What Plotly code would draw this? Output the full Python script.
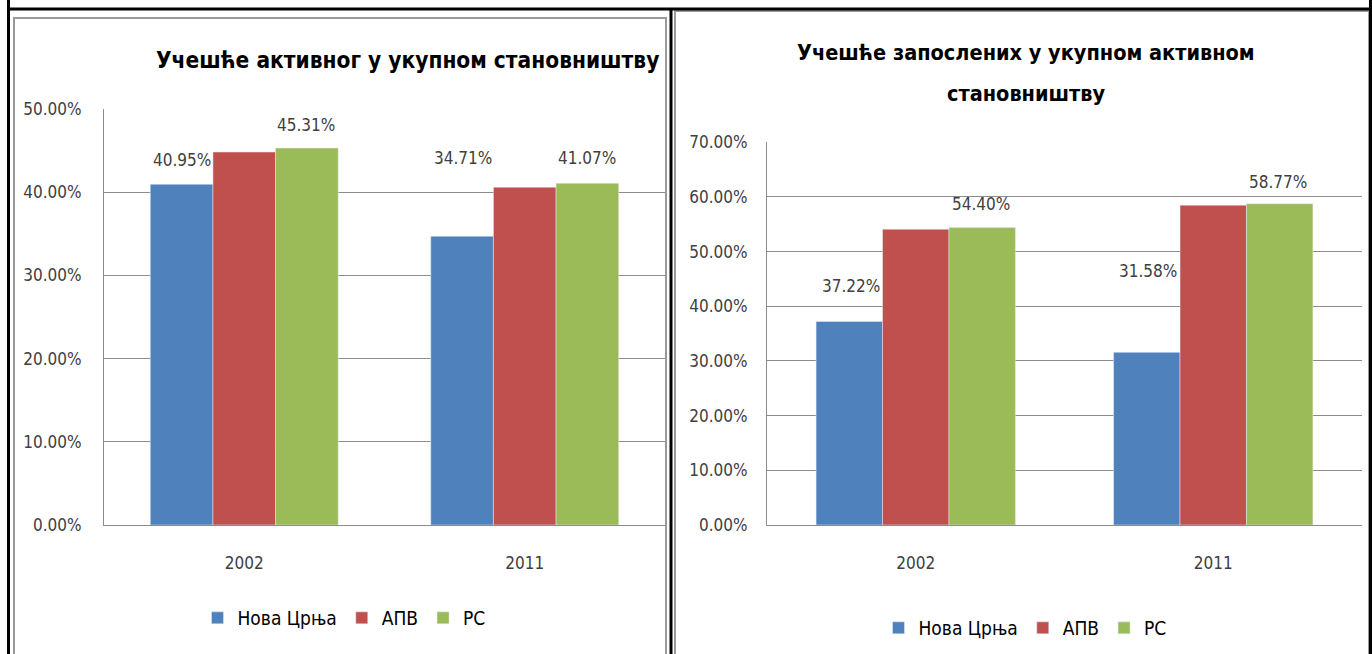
import plotly.graph_objects as go

years = ["2002", "2011"]
series = ["Нова Црња", "АПВ", "РС"]
colors = ["#4F81BD", "#C0504D", "#9BBB59"]

# Учешће активног у укупном становништву (%)
active_nc = [40.95, 34.71]
active_apv = [44.83, 40.60]
active_rs = [45.31, 41.07]

# Учешће запослених у укупном активном становништву (%)
empl_nc = [37.22, 31.58]
empl_apv = [54.10, 58.50]
empl_rs = [54.40, 58.77]

title_left = "Учешће активног у укупном становништву"
title_right = ["Учешће запослених у укупном активном", "становништву"]

W, H = 1372, 654
FONT = "Liberation Sans Narrow, DejaVu Sans Condensed, Arial Narrow, sans-serif"
TXT = "#404040"


def px(x):
    return x / W


def py(y):
    return (H - y) / H


fig = go.Figure()

left = [active_nc, active_apv, active_rs]
right = [empl_nc, empl_apv, empl_rs]
for i, name in enumerate(series):
    fig.add_trace(go.Bar(x=years, y=left[i], name=name, marker_color=colors[i],
                         xaxis="x", yaxis="y", legend="legend"))
    fig.add_trace(go.Bar(x=years, y=right[i], name=name, marker_color=colors[i],
                         xaxis="x2", yaxis="y2", legend="legend2"))

# data labels (only Нова Црња and РС carry labels, as in the original);
# label offsets in px: (bar shift, lift above bar top per year)
label_sets = [
    ("x", "y", active_nc, -62, [24, 78]),
    ("x", "y", active_rs, 62, [23, 25]),
    ("x2", "y2", empl_nc, -65, [36, 81]),
    ("x2", "y2", empl_rs, 65, [24, 22]),
]
annotations = []
for xr, yr, vals, dx, lifts in label_sets:
    for j, (v, lift) in enumerate(zip(vals, lifts)):
        annotations.append(dict(
            x=j, y=v, xref=xr, yref=yr, text=f"{v:.2f}%", showarrow=False,
            xshift=dx, yshift=lift, xanchor="center", yanchor="middle",
            font=dict(size=17, color=TXT, family=FONT)))

annotations.append(dict(
    text="<b>" + title_left + "</b>", x=px(407), y=py(60), xref="paper", yref="paper",
    showarrow=False, xanchor="center", yanchor="middle",
    font=dict(size=22.5, color="black", family=FONT)))
for line, ypos in zip(title_right, [52, 93]):
    annotations.append(dict(
        text="<b>" + line + "</b>", x=px(1026), y=py(ypos), xref="paper", yref="paper",
        showarrow=False, xanchor="center", yanchor="middle",
        font=dict(size=21.5, color="black", family=FONT)))

axis_common = dict(showline=True, linecolor="#8c8c8c", linewidth=1, automargin=False,
                   tickfont=dict(size=17, color=TXT, family=FONT), ticks="")

fig.update_layout(
    width=W, height=H,
    margin=dict(l=0, r=0, t=0, b=0, autoexpand=False),
    paper_bgcolor="white", plot_bgcolor="white",
    barmode="group", bargap=0.33, bargroupgap=0,
    font=dict(family=FONT, color=TXT),
    xaxis=dict(domain=[px(104), px(665)], anchor="y", type="category", range=[-0.5, 1.5],
               ticklabelstandoff=23, **axis_common),
    yaxis=dict(domain=[py(525), py(109)], anchor="x", range=[0, 50], dtick=10,
               ticksuffix="%", tickformat=".2f", showgrid=True, gridcolor="#8c8c8c",
               ticklabelstandoff=18, **axis_common),
    xaxis2=dict(domain=[px(767), px(1362)], anchor="y2", type="category", range=[-0.5, 1.5],
                ticklabelstandoff=23, **axis_common),
    yaxis2=dict(domain=[py(525), py(142.3)], anchor="x2", range=[0, 70], dtick=10,
                ticksuffix="%", tickformat=".2f", showgrid=True, gridcolor="#8c8c8c",
                ticklabelstandoff=15, **axis_common),
    legend=dict(orientation="h", x=px(344), y=py(618), xanchor="center", yanchor="middle",
                font=dict(size=19, color="black", family=FONT), itemwidth=30),
    legend2=dict(orientation="h", x=px(1025), y=py(628), xanchor="center", yanchor="middle",
                 font=dict(size=19, color="black", family=FONT), itemwidth=30),
    annotations=annotations,
    shapes=[
        # chart frames (grey)
        dict(type="rect", xref="paper", yref="paper", x0=px(14), x1=px(666), y0=py(660), y1=py(18),
             line=dict(color="#9a9a9a", width=2)),
        dict(type="rect", xref="paper", yref="paper", x0=px(675), x1=px(1369), y0=py(660), y1=py(11),
             line=dict(color="#9a9a9a", width=2)),
        # table borders (black)
        dict(type="line", xref="paper", yref="paper", x0=px(8), x1=px(1372), y0=py(9), y1=py(9),
             line=dict(color="black", width=3)),
        dict(type="line", xref="paper", yref="paper", x0=px(8.5), x1=px(8.5), y0=py(0), y1=py(660),
             line=dict(color="black", width=3)),
        dict(type="line", xref="paper", yref="paper", x0=px(671), x1=px(671), y0=py(9), y1=py(660),
             line=dict(color="black", width=3)),
        dict(type="line", xref="paper", yref="paper", x0=px(1370.5), x1=px(1370.5), y0=py(0), y1=py(660),
             line=dict(color="black", width=3)),
    ],
)

fig.write_html("out.html", config={"displayModeBar": False},
               post_script="document.body.style.margin='0';document.body.style.overflow='hidden';")
